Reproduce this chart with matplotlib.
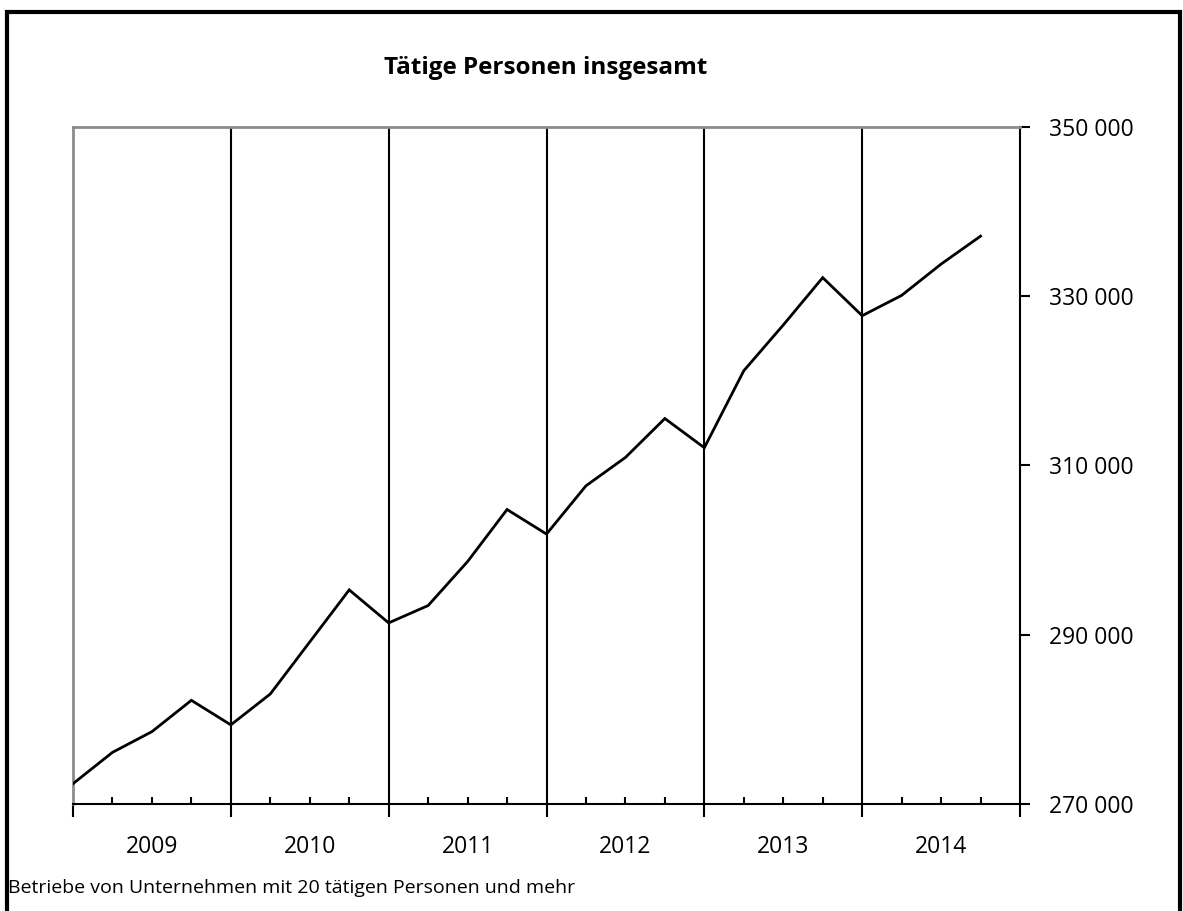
import matplotlib.pyplot as plt
import matplotlib.patches as mpatches
from matplotlib.ticker import FuncFormatter

# ── Data (quarterly, 2009 Q1 .. 2014 Q4) ────────────────────────────────────
years = ["2009", "2010", "2011", "2012", "2013", "2014"]
persons = [
    272400, 276100, 278550, 282250,
    279350, 283000, 289150, 295300,
    291400, 293450, 298650, 304800,
    301900, 307600, 310950, 315550,
    312100, 321200, 326600, 332200,
    327700, 330100, 333800, 337100,
]
y_ticks = [270000, 290000, 310000, 330000, 350000]

title = "Tätige Personen insgesamt"
footnote = "Betriebe von Unternehmen mit 20 tätigen Personen und mehr"

plt.rcParams["font.family"] = ["Open Sans", "DejaVu Sans"]

fig = plt.figure(figsize=(11.83, 9.11), dpi=100)
ax = fig.add_axes([73 / 1183, 1 - 804 / 911, (1020 - 73) / 1183, (804 - 127) / 911])

n_q = len(persons)
ax.plot(range(n_q), persons, color="black", lw=2.0, solid_joinstyle="miter", zorder=3)

# year separators
for k in range(4, 4 * len(years), 4):
    ax.axvline(k, color="black", lw=1.5, zorder=2)

ax.set_xlim(0, 4 * len(years))
ax.set_ylim(y_ticks[0], y_ticks[-1])

# spines
ax.spines["left"].set_color("#8c8c8c")
ax.spines["top"].set_color("#8c8c8c")
ax.spines["left"].set_linewidth(2.0)
ax.spines["top"].set_linewidth(2.0)
ax.spines["right"].set_linewidth(1.5)
ax.spines["bottom"].set_linewidth(1.5)

# y axis on right
ax.yaxis.tick_right()
ax.set_yticks(y_ticks)
ax.yaxis.set_major_formatter(FuncFormatter(lambda v, p: f"{int(v):,}".replace(",", " ")))
ax.tick_params(axis="y", direction="out", length=7, width=1.5, pad=14, labelsize=16.5)

# x axis: year boundaries (out) and quarter ticks (in)
ax.set_xticks(range(0, 4 * len(years) + 1, 4))
ax.set_xticks([q for q in range(4 * len(years)) if q % 4], minor=True)
ax.tick_params(axis="x", which="major", direction="out", length=9, width=1.5, labelbottom=False)
ax.tick_params(axis="x", which="minor", direction="in", length=5, width=1.5)

for i, yr in enumerate(years):
    ax.text(4 * i + 2, -0.064, yr, transform=ax.get_xaxis_transform(),
            ha="center", va="center", fontsize=16.5)

fig.text(546 / 1183, 1 - 68 / 911, title, ha="center", va="center",
         fontsize=17.5, fontweight="bold")
fig.text(8 / 1183, 1 - 888 / 911, footnote, ha="left", va="center", fontsize=14)

# outer frame
fig.patches.append(mpatches.Rectangle((7 / 1183, -0.01), 1173 / 1183, 1 - 12 / 911 + 0.01,
                                      transform=fig.transFigure, fill=False,
                                      edgecolor="black", lw=3.0))

fig.savefig("out.png", dpi=100)
